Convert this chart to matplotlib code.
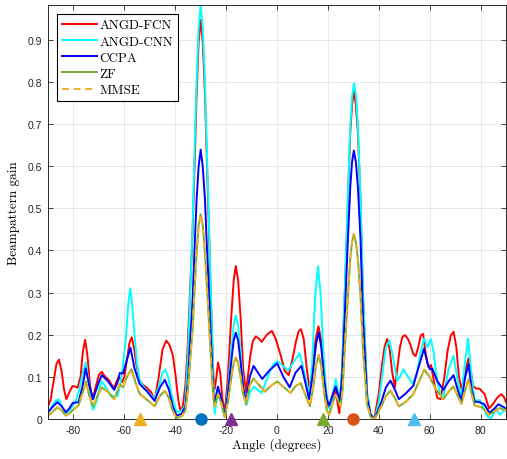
import matplotlib
matplotlib.use('Agg')
import matplotlib.pyplot as plt

# beampattern samples (angle in degrees, gain)
fcn_angle = [-90, -89, -87.8, -86.7, -85.7, -84.7, -83.7, -82.8, -81.5, -80.4, -79.3, -78.4, -77.2, -76.3, -75.4,
             -74.5, -73.5, -72.5, -71.3, -70, -68.9, -67.5, -66, -64.9, -64, -63, -62.1, -60.9, -60, -59, -58,
             -57.1, -56.2, -55.3, -54, -52.5, -51.3, -49.4, -48.1, -46.5, -45, -43.5, -42.2, -40.9, -39.8, -38.8,
             -38, -37, -36, -35.2, -34.2, -33.2, -32.3, -31.6, -30.8, -30, -29.2, -28.3, -27.7, -27, -25.9, -25,
             -24.5, -23.8, -23.2, -22.3, -21.5, -20.5, -19.3, -18, -17, -16.2, -15.3, -14.3, -13.3, -12.2, -10.5,
             -9.5, -8.3, -7, -6, -4, -2, -0.5, 1.5, 3, 4.6, 6, 7.5, 8.5, 9.4, 10.5, 11.7, 12.8, 14, 15.2, 16.3,
             17.3, 18.5, 19.5, 20.3, 21.8, 23, 24, 24.5, 25.6, 26.6, 27.9, 28.8, 29.5, 30.2, 31, 31.8, 32.8,
             33.8, 35.4, 36.8, 38.2, 40, 41.3, 42.3, 43.3, 44.3, 45.3, 46.3, 47.3, 48.3, 49.3, 50.3, 51.5, 52.5,
             53.5, 54.5, 55.5, 56.5, 57.4, 58.3, 59.5, 60.5, 62, 63, 64.3, 65.8, 67, 68.3, 69.4, 70.5, 71.5, 72.5,
             73.8, 75.3, 76.3, 77, 78.3, 79.6, 81.6, 83.3, 84.8, 86.5, 88.2, 89.2, 90]
fcn_gain = [0.03, 0.045, 0.09, 0.13, 0.141, 0.115, 0.07, 0.047, 0.065, 0.078, 0.077, 0.074, 0.1, 0.16, 0.188,
            0.15, 0.08, 0.047, 0.075, 0.105, 0.112, 0.1, 0.092, 0.08, 0.074, 0.09, 0.1, 0.087, 0.1, 0.14, 0.18,
            0.194, 0.17, 0.13, 0.091, 0.08, 0.075, 0.063, 0.043, 0.1, 0.165, 0.186, 0.175, 0.15, 0.1, 0.045,
            0.02, 0.03, 0.08, 0.16, 0.3, 0.44, 0.62, 0.77, 0.895, 0.947, 0.895, 0.77, 0.64, 0.5, 0.27, 0.1,
            0.071, 0.1, 0.134, 0.11, 0.05, 0.016, 0.1, 0.24, 0.33, 0.363, 0.33, 0.24, 0.12, 0.063, 0.15,
            0.185, 0.196, 0.19, 0.183, 0.2, 0.209, 0.19, 0.15, 0.115, 0.104, 0.14, 0.185, 0.208, 0.213, 0.19, 0.12, 0.071, 0.12, 0.19, 0.22,
            0.19, 0.11, 0.05, 0.028, 0.05, 0.071, 0.03, 0.014, 0.12, 0.29, 0.52, 0.68, 0.745, 0.778, 0.745, 0.68, 0.52,
            0.29, 0.06, 0.01, 0.0, 0.06, 0.13, 0.172, 0.19, 0.165, 0.11, 0.075, 0.12, 0.17, 0.195, 0.199, 0.19, 0.175,
            0.155, 0.149, 0.17, 0.198, 0.202, 0.16, 0.123, 0.128, 0.08, 0.05, 0.047, 0.1, 0.16, 0.198, 0.207, 0.17, 0.1, 0.071,
            0.11, 0.144, 0.11, 0.079, 0.072, 0.072, 0.059, 0.025, 0.035, 0.05, 0.059, 0.052, 0.04]

cnn_angle = [-90, -88.3, -87, -85.9, -84.5, -83, -81.6, -80.4, -79, -77.8, -76.5, -75.2, -74.3, -73.2, -72.3, -71,
             -69.8, -68.9, -67.2, -65.3, -62.7, -61.8, -61, -59.4, -58.5, -57.7, -56.9, -56, -55, -54, -51.3,
             -48.1, -46.3, -45, -43.9, -42.8, -41.5, -40.2, -39.4, -37.5, -36.1, -35, -34.2, -33.2, -32.3, -31.6,
             -30.8, -30, -29.2, -28.3, -27.7, -27, -25.9, -25, -24.5, -23.8, -23.2, -22, -20.5, -19.3, -18, -17,
             -16.2, -15.3, -14.3, -13.3, -12, -10.5, -9, -7.5, -6, -3, -1.5, 0.4, 2.5, 4.4, 6.5, 8.9, 10.8, 12.6,
             13.8, 15, 16.1, 17.1, 18.2, 19.4, 20.7, 22, 23.1, 24.6, 25.6, 26.6, 27.9, 28.8, 29.5, 30.3, 31.1,
             31.8, 32.8, 33.8, 35.4, 36.8, 38.4, 40, 41.5, 42.8, 44.2, 45.5, 47.2, 48.3, 49.7, 51.5, 53.4, 55,
             56.5, 57.8, 59.2, 60.5, 61.5, 63, 64.5, 65.5, 67.5, 69.4, 70.8, 72.5, 73.8, 75.1, 76.5, 77.7, 79.6,
             81, 82.2, 84, 86.2, 87.5, 90]
cnn_gain = [0.012, 0.032, 0.043, 0.047, 0.03, 0.01, 0.02, 0.03, 0.045, 0.067, 0.105, 0.134, 0.1, 0.045, 0.022, 0.04,
            0.075, 0.089, 0.075, 0.055, 0.054, 0.075, 0.107, 0.19, 0.27, 0.31, 0.27, 0.2, 0.13, 0.091, 0.067,
            0.048, 0.08, 0.11, 0.117, 0.1, 0.06, 0.03, 0.016, 0.02, 0.033, 0.15, 0.285, 0.45, 0.66, 0.8,
            0.93, 0.983, 0.93, 0.8, 0.66, 0.522, 0.285, 0.087, 0.012, 0.04, 0.065, 0.04, 0.005, 0.07, 0.16, 0.224,
            0.246, 0.224, 0.16, 0.08, 0.033, 0.065, 0.077, 0.068, 0.062, 0.11, 0.13, 0.137, 0.125, 0.115, 0.135, 0.156, 0.11, 0.055,
            0.13, 0.29, 0.363, 0.3, 0.16, 0.06, 0.024, 0.06, 0.095, 0.04, 0.12, 0.3, 0.538, 0.696, 0.765, 0.797, 0.765,
            0.696, 0.538, 0.3, 0.063, 0.01, 0.0, 0.04, 0.11, 0.17, 0.186, 0.15, 0.091, 0.1, 0.118, 0.1, 0.083, 0.11,
            0.16, 0.191, 0.17, 0.19, 0.16, 0.09, 0.052, 0.055, 0.12, 0.15, 0.1, 0.048, 0.13, 0.191, 0.1, 0.043, 0.045,
            0.03, 0.01, 0.0, 0.024, 0.01, 0.024]

ccpa_angle = [-90, -88, -86.3, -84.6, -83, -81.6, -80.3, -78, -76.5, -75.2, -73.8, -72.3, -70.5, -68.9, -66.5, -64,
              -62.8, -61.8, -60.5, -59, -57.6, -56, -54, -51, -48.1, -46, -44.1, -42.5, -41, -39.5, -37.5, -36,
              -35, -34.2, -33.2, -32.3, -31.6, -30.8, -30, -29.2, -28.3, -27.7, -27, -25.9, -25, -24.5, -23.8,
              -23.2, -22, -20.5, -19.3, -18, -17, -16.2, -15.3, -14.3, -13.3, -12.2, -10.7, -9.2, -7.5, -5.8, -3,
              0.1, 2.5, 5, 7.3, 9.6, 11, 12.6, 13.9, 15.4, 16.4, 17.4, 18.6, 19.6, 20.5, 22, 23.1, 24.7, 25.6,
              26.6, 27.9, 28.8, 29.5, 30.2, 31, 31.8, 32.8, 33.8, 35.4, 36.8, 38.4, 41, 42.8, 44.6, 46.3, 47.9,
              50.5, 53.6, 55.5, 57.8, 59.2, 60.1, 61, 63, 65.4, 67.5, 69.4, 71, 72.5, 74, 75.3, 76.5, 77.7, 79.5,
              81.5, 83.5, 85.5, 87, 88.5, 90]
ccpa_gain = [0.016, 0.03, 0.04, 0.03, 0.016, 0.025, 0.038, 0.04, 0.075, 0.12, 0.08, 0.047, 0.08, 0.104, 0.09, 0.069,
             0.085, 0.109, 0.108, 0.14, 0.169, 0.12, 0.083, 0.065, 0.043, 0.075, 0.093, 0.07, 0.03, 0.008, 0.012, 0.03,
             0.09, 0.18, 0.28, 0.42, 0.52, 0.6, 0.639, 0.6, 0.52, 0.43, 0.34, 0.18, 0.06, 0.035, 0.06,
             0.077, 0.05, 0.005, 0.06, 0.135, 0.187, 0.205, 0.187, 0.135, 0.075, 0.04, 0.1, 0.126, 0.11, 0.095, 0.115,
             0.132, 0.1, 0.075, 0.11, 0.126, 0.09, 0.047, 0.1, 0.18, 0.205, 0.17, 0.09, 0.045, 0.032, 0.06, 0.077, 0.043, 0.1,
             0.24, 0.43, 0.55, 0.61, 0.637, 0.61, 0.55, 0.43, 0.24, 0.05, 0.01, 0.0, 0.04, 0.075, 0.091, 0.07, 0.047,
             0.06, 0.079, 0.12, 0.167, 0.13, 0.118, 0.12, 0.09, 0.069, 0.09, 0.104, 0.07, 0.043, 0.1, 0.13, 0.07, 0.041, 0.04,
             0.035, 0.014, 0.025, 0.035, 0.03, 0.025]

zf_angle = [-90, -88, -86.3, -84.6, -83, -81.6, -80.4, -78, -76.5, -75.1, -73.8, -72.3, -70.5, -68.9, -66.5, -64,
            -62.8, -61.8, -60.5, -59, -57.2, -55.5, -54, -51, -48.1, -46, -44.1, -42.5, -41, -39.5, -37.5, -36,
            -35, -34.2, -33.2, -32.3, -31.6, -30.8, -30, -29.2, -28.3, -27.7, -27, -25.9, -25, -24.5, -23.8,
            -23.2, -22, -20.5, -19.3, -18, -17, -16.2, -15.3, -14.3, -13.3, -12.2, -10.7, -9.2, -7, -4.8, -2.5,
            0.1, 2.7, 5.3, 7.3, 9.3, 11.3, 12.9, 14.1, 15.4, 16.4, 17.4, 18.6, 19.6, 20.5, 22, 23.1, 25, 25.8,
            26.6, 27.9, 28.8, 29.5, 30.2, 31, 31.8, 32.8, 33.8, 35.4, 36.8, 38.4, 41, 42.8, 44.6, 46.3, 47.9,
            50.5, 53.6, 55.5, 57.9, 60, 62.5, 65.4, 67.5, 69.4, 71, 72.5, 74, 75.3, 76.5, 77.7, 80.5, 83.4, 85.5,
            87.5, 90]
zf_gain = [0.007, 0.018, 0.028, 0.02, 0.008, 0.013, 0.02, 0.033, 0.06, 0.089, 0.055, 0.03, 0.055, 0.075, 0.065, 0.047,
           0.065, 0.083, 0.075, 0.1, 0.118, 0.085, 0.06, 0.045, 0.03, 0.055, 0.067, 0.05, 0.02, 0.002, 0.006, 0.02,
           0.07, 0.135, 0.21, 0.32, 0.395, 0.46, 0.486, 0.46, 0.395, 0.33, 0.26, 0.135, 0.05, 0.03, 0.045,
           0.059, 0.04, 0.004, 0.04, 0.096, 0.133, 0.146, 0.133, 0.1, 0.06, 0.036, 0.08, 0.096, 0.08, 0.065, 0.078,
           0.089, 0.075, 0.062, 0.078, 0.085, 0.055, 0.03, 0.07, 0.13, 0.152, 0.125, 0.06, 0.02, 0.01, 0.04, 0.057, 0.03, 0.07,
           0.165, 0.295, 0.38, 0.42, 0.439, 0.42, 0.38, 0.295, 0.165, 0.035, 0.005, 0.0, 0.03, 0.055, 0.067, 0.05, 0.03,
           0.04, 0.059, 0.085, 0.117, 0.1, 0.07, 0.047, 0.065, 0.077, 0.055, 0.036, 0.07, 0.094, 0.06, 0.032,
           0.028, 0.01, 0.018, 0.026, 0.02]

# MMSE and ZF give the same pattern here
mmse_angle = list(zf_angle)
mmse_gain = list(zf_gain)

# user / target directions marked on the angle axis
mark_angle = [-54, -30, -18, 18, 30, 54]
mark_shape = ['^', 'o', '^', '^', 'o', '^']
mark_color = ['#EDB120', '#0072BD', '#7E2F8E', '#77AC30', '#D95319', '#4DBEEE']

plt.rcParams['axes.unicode_minus'] = False
plt.rcParams['font.family'] = 'Liberation Sans'

fig = plt.figure(figsize=(5.07, 4.6), dpi=100)
ax = fig.add_axes([0.0947, 0.087, 0.9033, 0.9005])

style = dict(lw=1.4, solid_joinstyle='round')
ax.plot(fcn_angle, fcn_gain, color='#FF0000', label='ANGD-FCN', **style)
ax.plot(cnn_angle, cnn_gain, color='#00FFFF', label='ANGD-CNN', **style)
ax.plot(ccpa_angle, ccpa_gain, color='#0000FF', label='CCPA', **style)
ax.plot(zf_angle, zf_gain, color='#77AC30', label='ZF', **style)
ax.plot(mmse_angle, mmse_gain, color='#EDB120', lw=1.4, ls=(0, (3.5, 2.5)), label='MMSE')

for a, m, c in zip(mark_angle, mark_shape, mark_color):
    ax.plot([a], [0], marker=m, color=c, ms=8.5 if m == '^' else 8, ls='none',
            clip_on=False, zorder=10)

ax.set_xlim(-90, 90)
ax.set_ylim(0, 0.983)
ax.set_xticks(range(-80, 81, 20))
ax.set_yticks([i / 10 for i in range(10)])
ax.set_yticklabels(['0'] + [f'{i / 10:.1f}' for i in range(1, 10)])

ax.grid(True, color='#e3e3e3', lw=0.6)
ax.set_axisbelow(True)
ax.tick_params(direction='in', length=3.5, width=0.6, top=True, right=True,
               labelsize=7.5, colors='#262626', pad=4)
for s in ax.spines.values():
    s.set_color('#262626')
    s.set_linewidth(0.7)

ax.set_xlabel('Angle (degrees)', family='cmr10', fontsize=9.5, labelpad=2)
ax.set_ylabel('Beampattern gain', family='cmr10', fontsize=9.5, labelpad=6)

leg = ax.legend(loc='upper left', bbox_to_anchor=(0.0197, 0.978), borderaxespad=0,
                prop={'family': 'cmr10', 'size': 9.5}, fancybox=False, framealpha=1,
                edgecolor='black', handlelength=2.6, handletextpad=0.2, labelspacing=0.3,
                borderpad=0.4)
leg.get_frame().set_linewidth(0.8)

fig.savefig('out.png', dpi=100)
